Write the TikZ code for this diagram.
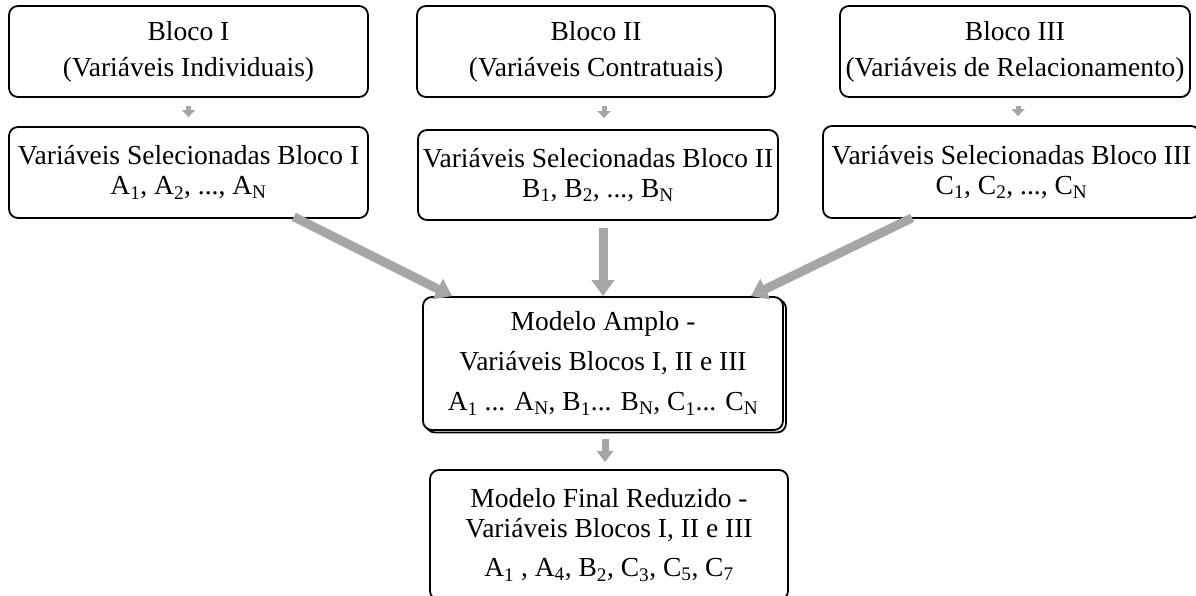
\documentclass[tikz,border=0pt]{standalone}
\usepackage{fontspec}
\setmainfont{Liberation Serif}
\usetikzlibrary{arrows.meta,calc}
\definecolor{arrgray}{RGB}{166,166,166}
\begin{document}
\begin{tikzpicture}[x=1pt,y=-1pt,
  box/.style={draw=black,line width=1.8pt,rounded corners=9pt,fill=white,inner sep=0pt,align=center,font=\fontsize{27.5}{30}\selectfont},
  smallarr/.style={draw=arrgray,line width=5pt,-{Triangle[width=13pt,length=7pt]}},
  bigarr/.style={draw=arrgray,line width=9pt,-{Triangle[width=22pt,length=16pt]}},
  midarr/.style={draw=arrgray,line width=7pt,-{Triangle[width=16pt,length=11pt]}}]
\useasboundingbox (0,0) rectangle (1196,596);

\node[box,minimum width=359pt,minimum height=91pt] (b1) at (188.5,51.5) {Bloco I\\[6pt](Variáveis Individuais)};
\node[box,minimum width=358pt,minimum height=91pt] (b2) at (596,51.5) {Bloco II\\[6pt](Variáveis Contratuais)};
\node[box,minimum width=350pt,minimum height=91pt] (b3) at (1015,51.5) {Bloco III\\[6pt](Variáveis de Relacionamento)};

\node[box,minimum width=359pt,minimum height=91pt] (s1) at (188.5,172.5) {Variáveis Selecionadas Bloco I\\A\textsubscript{1}, A\textsubscript{2}, ..., A\textsubscript{N}};
\node[box,minimum width=360pt,minimum height=90pt] (s2) at (598,175) {Variáveis Selecionadas Bloco II\\B\textsubscript{1}, B\textsubscript{2}, ..., B\textsubscript{N}};
\node[box,minimum width=377pt,minimum height=92pt] (s3) at (1011.5,172) {Variáveis Selecionadas Bloco III\\C\textsubscript{1}, C\textsubscript{2}, ..., C\textsubscript{N}};

\node[box,minimum width=360pt,minimum height=133pt] (amsh) at (606,366) {};
\node[box,minimum width=360pt,minimum height=133pt] (am) at (603,363.5) {Modelo Amplo -\\[10pt]Variáveis Blocos I, II e III\\[10pt]A\textsubscript{1} ... A\textsubscript{N}, B\textsubscript{1}... B\textsubscript{N}, C\textsubscript{1}... C\textsubscript{N}};

\node[box,minimum width=358pt,minimum height=130pt] (fin) at (609,535) {Modelo Final Reduzido -\\Variáveis Blocos I, II e III\\[9pt]A\textsubscript{1} , A\textsubscript{4}, B\textsubscript{2}, C\textsubscript{3}, C\textsubscript{5}, C\textsubscript{7}};

\draw[smallarr,shorten <=8pt,shorten >=9pt] (b1.south) -- (s1.north);
\draw[smallarr,shorten <=8pt,shorten >=11pt] ([xshift=8pt]b2.south) -- ([xshift=8pt]b2.south |- s2.north);
\draw[smallarr,shorten <=8pt,shorten >=9pt] ([xshift=3pt]b3.south) -- ([xshift=3pt]b3.south |- s3.north);

\draw[bigarr] ([xshift=-75pt,yshift=2pt]s1.south east) -- ([xshift=30pt]am.north west);
\draw[bigarr,shorten <=7pt] (am.north |- s2.south) -- (am.north);
\draw[bigarr] ([xshift=90pt,yshift=1pt]s3.south west) -- ([xshift=-33pt]am.north east);

\draw[midarr,shorten <=8pt,shorten >=7pt] ([xshift=2pt]am.south) -- ([xshift=2pt]am.south |- fin.north);
\end{tikzpicture}
\end{document}
